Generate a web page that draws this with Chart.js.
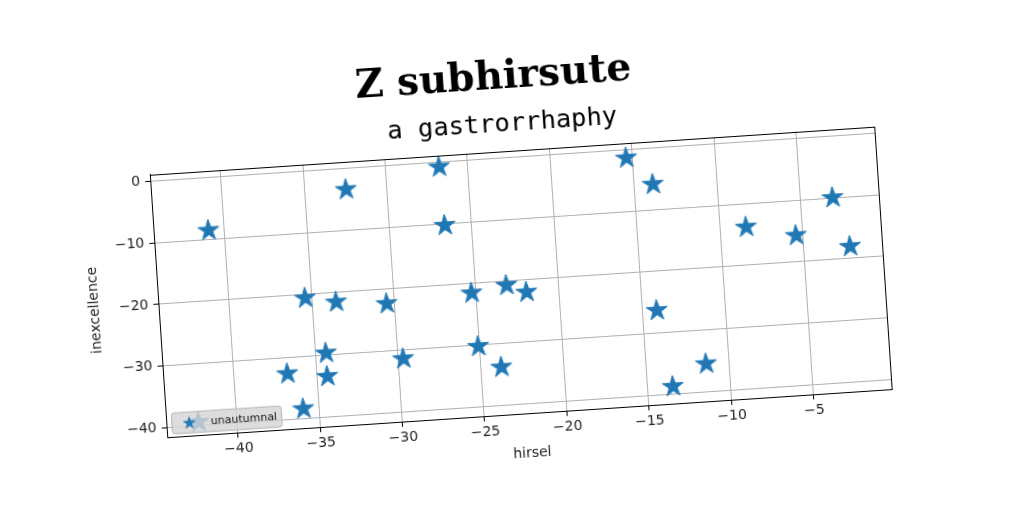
<!DOCTYPE html>
<html>
<head>
<meta charset="utf-8">
<script src="https://cdn.jsdelivr.net/npm/chart.js@4"></script>
<style>
  html, body { margin: 0; padding: 0; background: #ffffff; overflow: hidden; }
  #wrap { position: absolute; left: 0; top: 0; width: 1024px; height: 512px;
          transform: rotate(-3.8deg); transform-origin: 512px 256px; }
  canvas { display: block; }
</style>
</head>
<body>
<div id="wrap"><canvas id="c" width="1024" height="512"></canvas></div>
<script>
const titleText = "Z subhirsute";
const subtitleText = "a gastrorrhaphy";
const seriesLabel = "unautumnal";
const xAxisLabel = "hirsel";
const yAxisLabel = "inexcellence";

const xValues = [-40.97, -32.48, -26.75, -26.64, -35.39, -33.53, -30.47, -25.29, -23.15, -21.96,
                 -34.35, -25.10, -29.69, -23.78, -36.77, -34.36, -35.94, -42.34, -15.38, -13.87,
                 -3.04, -8.40, -5.41, -2.18, -14.14, -11.37, -13.47];
const yValues = [-8.40, -3.27, -0.62, -10.12, -20.38, -21.36, -22.16, -21.36, -20.49, -21.80,
                 -29.50, -30.06, -31.24, -33.66, -32.43, -33.29, -38.26, -39.30, -1.18, -5.72,
                 -9.81, -13.64, -15.52, -17.88, -26.16, -35.31, -38.63];
const xTicks = [-40, -35, -30, -25, -20, -15, -10, -5];
const yTicks = [-40, -30, -20, -10, 0];

const BLUE = '#1f77b4';

function makeStar(R, lw) {
  const size = Math.ceil(2 * R + 2 * lw + 2);
  const cv = document.createElement('canvas');
  cv.width = size; cv.height = size;
  const g = cv.getContext('2d');
  const c = size / 2, r = R * 0.381966;
  g.beginPath();
  for (let i = 0; i < 10; i++) {
    const rad = (i % 2 === 0) ? R : r;
    const a = -Math.PI / 2 + i * Math.PI / 5;
    const px = c + rad * Math.cos(a), py = c + rad * Math.sin(a) + R * 0.095;
    if (i === 0) g.moveTo(px, py); else g.lineTo(px, py);
  }
  g.closePath();
  g.fillStyle = BLUE; g.fill();
  g.lineWidth = lw; g.strokeStyle = BLUE; g.lineJoin = 'miter'; g.stroke();
  return cv;
}
const starBig = makeStar(11, 1);
const starSmall = makeStar(6, 0.8);

const fmt = v => String(v).replace('-', '\u2212');

const framePlugin = {
  id: 'frame',
  afterDatasetsDraw(chart) {
    const { ctx, chartArea: a } = chart;
    ctx.save();
    const bx = a.left + 5.5, by = a.bottom - 24, bw = 110, bh = 21;
    ctx.beginPath();
    if (ctx.roundRect) ctx.roundRect(bx, by, bw, bh, 3); else ctx.rect(bx, by, bw, bh);
    ctx.fillStyle = 'rgba(214,214,214,0.82)';
    ctx.fill();
    ctx.lineWidth = 1; ctx.strokeStyle = '#b5b5b5'; ctx.stroke();
    ctx.drawImage(starSmall, bx + 17.5 - starSmall.width / 2, by + bh / 2 - starSmall.height / 2);
    ctx.fillStyle = '#111';
    ctx.font = '11px "DejaVu Sans"';
    ctx.textAlign = 'left'; ctx.textBaseline = 'middle';
    ctx.fillText(seriesLabel, bx + 39, by + bh / 2);
    ctx.restore();
  },
  afterDraw(chart) {
    const { ctx, chartArea: a } = chart;
    ctx.save();
    ctx.strokeStyle = '#000'; ctx.lineWidth = 1;
    ctx.strokeRect(Math.round(a.left) + 0.5, Math.round(a.top) + 0.5,
                   Math.round(a.right - a.left) - 1, Math.round(a.bottom - a.top) - 1);
    ctx.fillStyle = '#000';
    ctx.textAlign = 'center'; ctx.textBaseline = 'alphabetic';
    ctx.font = 'bold 39px "DejaVu Serif"';
    ctx.fillText(titleText, 505, 88);
    ctx.font = '25.5px "DejaVu Sans Mono"';
    ctx.fillText(subtitleText, 511, 131);
    ctx.restore();
  }
};

new Chart(document.getElementById('c'), {
  type: 'scatter',
  data: {
    datasets: [{
      label: seriesLabel,
      data: xValues.map((x, i) => ({ x: x, y: yValues[i] })),
      pointStyle: starBig,
      pointRadius: 11,
      pointHoverRadius: 11,
      backgroundColor: BLUE,
      borderColor: BLUE
    }]
  },
  options: {
    responsive: false,
    animation: false,
    devicePixelRatio: 1,
    layout: { padding: { left: 83.6, right: 141.4, top: 150.7, bottom: 49.3 } },
    plugins: { legend: { display: false }, title: { display: false }, tooltip: { enabled: false } },
    scales: {
      x: {
        type: 'linear', min: -44.3, max: -0.2,
        afterBuildTicks: s => { s.ticks = xTicks.map(v => ({ value: v })); },
        afterFit: s => { s.height = 48.5; },
        ticks: { callback: v => fmt(v), font: { family: 'DejaVu Sans', size: 14 }, color: '#222', padding: 3, maxRotation: 0 },
        grid: { color: '#b0b0b0', lineWidth: 1, tickLength: 5, tickColor: '#000' },
        border: { display: true, color: '#000', width: 1 },
        title: { display: true, text: xAxisLabel, font: { family: 'DejaVu Sans', size: 14 }, color: '#222', padding: 0 }
      },
      y: {
        type: 'linear', min: -41.6, max: 1.1,
        afterBuildTicks: s => { s.ticks = yTicks.map(v => ({ value: v })); },
        afterFit: s => { s.width = 72.4; },
        ticks: { callback: v => fmt(v), font: { family: 'DejaVu Sans', size: 14 }, color: '#222', padding: 5 },
        grid: { color: '#b0b0b0', lineWidth: 1, tickLength: 5, tickColor: '#000' },
        border: { display: true, color: '#000', width: 1 },
        title: { display: true, text: yAxisLabel, font: { family: 'DejaVu Sans', size: 14 }, color: '#222', padding: 0 }
      }
    }
  },
  plugins: [framePlugin]
});
</script>
</body>
</html>
